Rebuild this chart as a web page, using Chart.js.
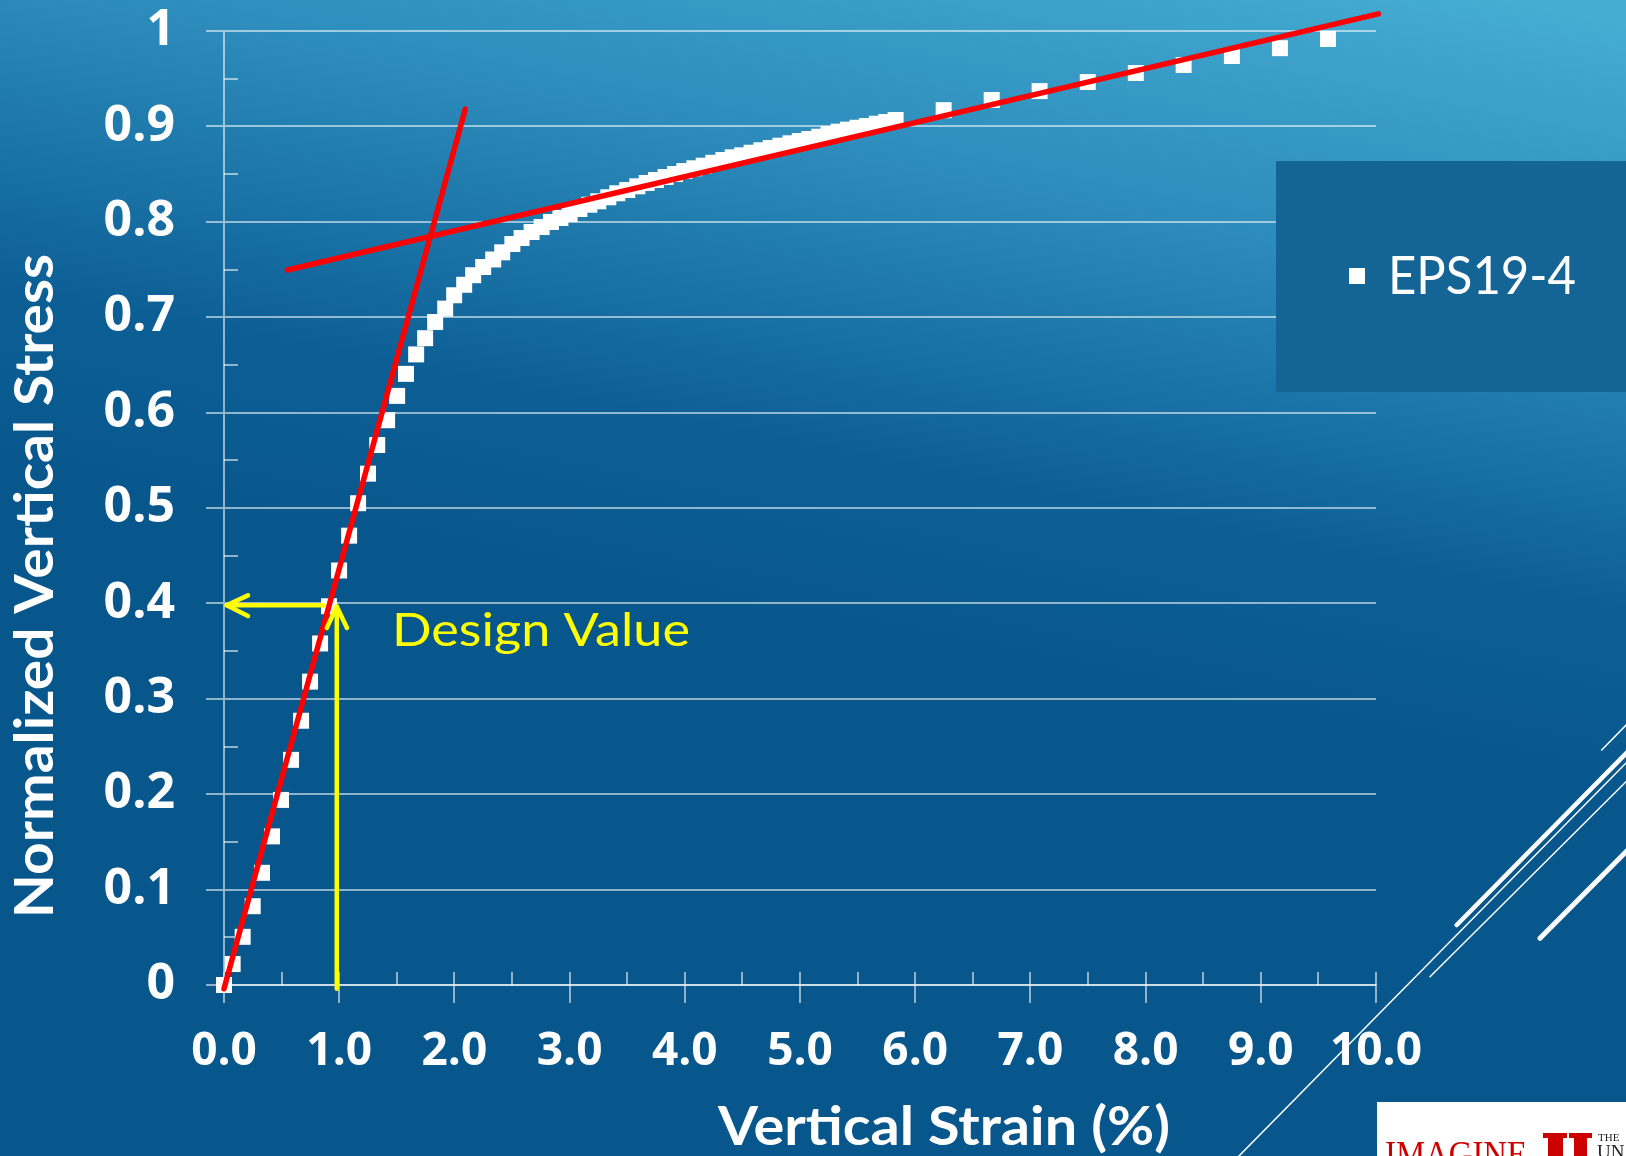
<!DOCTYPE html>
<html><head><meta charset="utf-8">
<script src="https://cdn.jsdelivr.net/npm/chart.js@4.4.1/dist/chart.umd.min.js"></script>
<style>html,body{margin:0;padding:0;background:#08578c;overflow:hidden}canvas{display:block}</style>
</head><body>
<canvas id="c" width="1626" height="1156"></canvas>
<script>
// ---------------- data ----------------
const seriesName = 'EPS19-4';
const strain = [0, 0.075, 0.162, 0.249, 0.33, 0.417, 0.495, 0.582, 0.669, 0.747,
  0.834, 0.912, 0.999, 1.086, 1.164, 1.25, 1.33, 1.416, 1.503, 1.58,
  1.668, 1.746, 1.833, 1.92, 1.998, 2.085, 2.163, 2.25, 2.337, 2.415,
  2.503, 2.583, 2.67, 2.757, 2.838, 2.92, 3.0, 3.085, 3.171, 3.249,
  3.336, 3.414, 3.5, 3.588, 3.669, 3.75, 3.833, 3.915, 3.996, 4.083,
  4.164, 4.248, 4.335, 4.416, 4.498, 4.58, 4.665, 4.746, 4.83, 4.917,
  4.998, 5.08, 5.167, 5.248, 5.335, 5.416, 5.5, 5.58, 5.667, 5.749,
  5.83, 6.247, 6.664, 7.08, 7.498, 7.915, 8.33, 8.749, 9.166, 9.583];
const stress = [0, 0.022, 0.0505, 0.0826, 0.1176, 0.1558, 0.194, 0.236, 0.277, 0.318,
  0.358, 0.397, 0.4345, 0.471, 0.505, 0.536, 0.566, 0.592, 0.6175, 0.6406,
  0.661, 0.678, 0.695, 0.709, 0.723, 0.734, 0.744, 0.7526, 0.7605, 0.768,
  0.7767, 0.783, 0.7893, 0.7945, 0.7998, 0.804, 0.8082, 0.8134, 0.8179, 0.8215,
  0.8257, 0.8299, 0.8333, 0.8372, 0.8407, 0.8438, 0.847, 0.8501, 0.8532, 0.8561,
  0.8588, 0.8619, 0.8648, 0.8676, 0.8697, 0.8724, 0.875, 0.8774, 0.8798, 0.8823,
  0.8847, 0.8868, 0.8892, 0.892, 0.8945, 0.8966, 0.8986, 0.9004, 0.9028, 0.9046,
  0.9067, 0.917, 0.9277, 0.937, 0.9465, 0.956, 0.9644, 0.9738, 0.982, 0.9916];

// tangent lines (red)
const initialTangentX = [0.0, 2.094];
const initialTangentY = [-0.004, 0.918];
const finalTangentX = [0.55, 10.02];
const finalTangentY = [0.7495, 1.018];

// design value arrows (yellow)
const hArrowX = [0.862, 0.023];
const hArrowY = [0.398, 0.398];
const hArrowHeadX = [0.2085, 0.023, 0.2085];
const hArrowHeadY = [0.4084, 0.398, 0.3868];
const vArrowX = [0.979, 0.979];
const vArrowY = [-0.004, 0.3968];
const vArrowHeadX = [0.892, 0.979, 1.068];
const vArrowHeadY = [0.3742, 0.3968, 0.3742];

const xTickLabels = ['0.0','1.0','2.0','3.0','4.0','5.0','6.0','7.0','8.0','9.0','10.0'];
const yTickLabels = ['0','0.1','0.2','0.3','0.4','0.5','0.6','0.7','0.8','0.9','1'];
const xTitle = 'Vertical Strain (%)';
const yTitle = 'Normalized Vertical Stress';
const annotationText = 'Design Value';

// ---------------- helpers ----------------
const zip = (xs, ys) => xs.map((x, i) => ({x: x, y: ys[i]}));
const GRID = 'rgba(255,255,255,0.55)';

function fitText(ctx, text, x, y, targetW, font, align, rot) {
  ctx.save();
  ctx.font = font;
  const w = ctx.measureText(text).width;
  ctx.translate(x, y);
  if (rot) ctx.rotate(rot);
  ctx.scale(targetW / w, 1);
  ctx.textAlign = align;
  ctx.textBaseline = 'alphabetic';
  ctx.fillText(text, 0, 0);
  ctx.restore();
}

const deco = {
  id: 'deco',
  beforeDraw(chart) {
    const ctx = chart.ctx, W = chart.width, H = chart.height;
    ctx.save();
    const g = ctx.createLinearGradient(1000, -100, 850, 650);
    g.addColorStop(0, '#45acd2');
    g.addColorStop(0.38, '#2b8aba');
    g.addColorStop(0.75, '#0c5f95');
    g.addColorStop(1, '#08578c');
    ctx.fillStyle = g;
    ctx.fillRect(0, 0, W, H);
    // slide decoration lines
    ctx.strokeStyle = '#ffffff';
    ctx.lineCap = 'round';
    const seg = (x1, y1, x2, y2, w) => { ctx.lineWidth = w; ctx.beginPath(); ctx.moveTo(x1, y1); ctx.lineTo(x2, y2); ctx.stroke(); };
    seg(1237, 1158, 1628, 761, 1.5);
    seg(1456.7, 925, 1628, 751.5, 4.5);
    seg(1430, 976.7, 1628, 779.7, 1.5);
    seg(1540, 938.3, 1628, 849.7, 5);
    seg(1601.7, 750, 1628, 723, 1.5);
    // logo box
    ctx.fillStyle = '#ffffff';
    ctx.fillRect(1377, 1102, 260, 60);
    ctx.fillStyle = '#cc0000';
    fitText(ctx, 'IMAGINE', 1385, 1166, 142, '36px "Liberation Serif"', 'left');
    ctx.fillRect(1543, 1133, 24, 5);
    ctx.fillRect(1569, 1133, 23, 5);
    ctx.fillRect(1548, 1133, 15, 30);
    ctx.fillRect(1574, 1133, 13, 30);
    ctx.fillStyle = '#222222';
    ctx.font = '11px "Liberation Serif"';
    ctx.textAlign = 'left';
    ctx.textBaseline = 'alphabetic';
    ctx.fillText('THE', 1598, 1141);
    ctx.font = '19px "Liberation Serif"';
    ctx.fillText('UN', 1597, 1158);
    ctx.restore();
  },
  beforeDatasetsDraw(chart) {
    const ctx = chart.ctx, xs = chart.scales.x, ys = chart.scales.y;
    ctx.save();
    ctx.strokeStyle = GRID;
    ctx.lineWidth = 2;
    const left = xs.getPixelForValue(0), bottom = ys.getPixelForValue(0);
    ctx.beginPath();
    for (let v = 0.05; v < 1; v += 0.1) {
      const y = Math.round(ys.getPixelForValue(v));
      ctx.moveTo(left, y); ctx.lineTo(left + 14, y);
    }
    for (let v = 0; v <= 10.001; v += 0.5) {
      const x = Math.round(xs.getPixelForValue(v));
      ctx.moveTo(x, bottom); ctx.lineTo(x, bottom - 13);
    }
    ctx.stroke();
    ctx.restore();
  },
  afterDraw(chart) {
    const ctx = chart.ctx;
    ctx.save();
    // legend
    ctx.fillStyle = '#156496';
    ctx.fillRect(1276, 161, 360, 231);
    ctx.fillStyle = '#ffffff';
    ctx.fillRect(1349, 268, 16, 16);
    fitText(ctx, chart.data.datasets[0].label, 1388, 294, 188, '53px Lato', 'left');
    // axis titles
    fitText(ctx, xTitle, 944, 1145, 452, 'bold 53px Lato', 'center');
    fitText(ctx, yTitle, 53, 586, 664, 'bold 53px Lato', 'center', -Math.PI / 2);
    // annotation
    ctx.fillStyle = '#ffff00';
    fitText(ctx, annotationText, 392, 646, 298, '47px Lato', 'left');
    ctx.restore();
  }
};

const redLine = (data) => ({
  data: data, showLine: true, borderColor: '#ff0000', borderWidth: 5.5,
  borderCapStyle: 'round', pointRadius: 0, clip: false, order: 2, fill: false
});
const yellowLine = (data) => ({
  data: data, showLine: true, borderColor: '#ffff00', borderWidth: 4.5,
  borderCapStyle: 'round', borderJoinStyle: 'round', pointRadius: 0, clip: false, order: 1, fill: false
});

new Chart(document.getElementById('c'), {
  type: 'scatter',
  data: {
    datasets: [
      { label: seriesName, data: zip(strain, stress), pointStyle: 'rect', pointRadius: 11.3,
        pointBackgroundColor: '#ffffff', backgroundColor: '#ffffff', pointBorderWidth: 0, borderWidth: 0,
        showLine: false, order: 3, clip: false },
      redLine(zip(initialTangentX, initialTangentY)),
      redLine(zip(finalTangentX, finalTangentY)),
      yellowLine(zip(hArrowX, hArrowY)),
      yellowLine(zip(hArrowHeadX, hArrowHeadY)),
      yellowLine(zip(vArrowX, vArrowY)),
      yellowLine(zip(vArrowHeadX, vArrowHeadY))
    ]
  },
  options: {
    responsive: false,
    animation: false,
    events: [],
    layout: { padding: { top: 31, right: 250, left: 0, bottom: 0 } },
    plugins: { legend: { display: false }, tooltip: { enabled: false } },
    scales: {
      x: {
        type: 'linear', min: 0, max: 10,
        afterFit(s) { s.height = 171; s.paddingLeft = 0; s.paddingRight = 0; },
        ticks: { stepSize: 1, autoSkip: false, maxRotation: 0, color: '#ffffff', padding: 21,
          font: { family: '"Open Sans"', weight: 'bold', size: 46, lineHeight: 1.2 },
          callback: (v, i) => xTickLabels[i] },
        grid: { drawOnChartArea: false, drawTicks: true, tickLength: 18, color: GRID, lineWidth: 2 },
        border: { display: true, color: GRID, width: 2 }
      },
      y: {
        type: 'linear', min: 0, max: 1,
        afterFit(s) { s.width = 224; s.paddingTop = 0; s.paddingBottom = 0; },
        ticks: { stepSize: 0.1, autoSkip: false, color: '#ffffff', padding: 31,
          font: { family: '"Open Sans"', weight: 'bold', size: 50, lineHeight: 1 },
          callback: (v, i) => yTickLabels[i] },
        grid: { drawTicks: true, tickLength: 18, color: GRID, lineWidth: 2 },
        border: { display: true, color: GRID, width: 2 }
      }
    }
  },
  plugins: [deco]
});
</script>
</body></html>
